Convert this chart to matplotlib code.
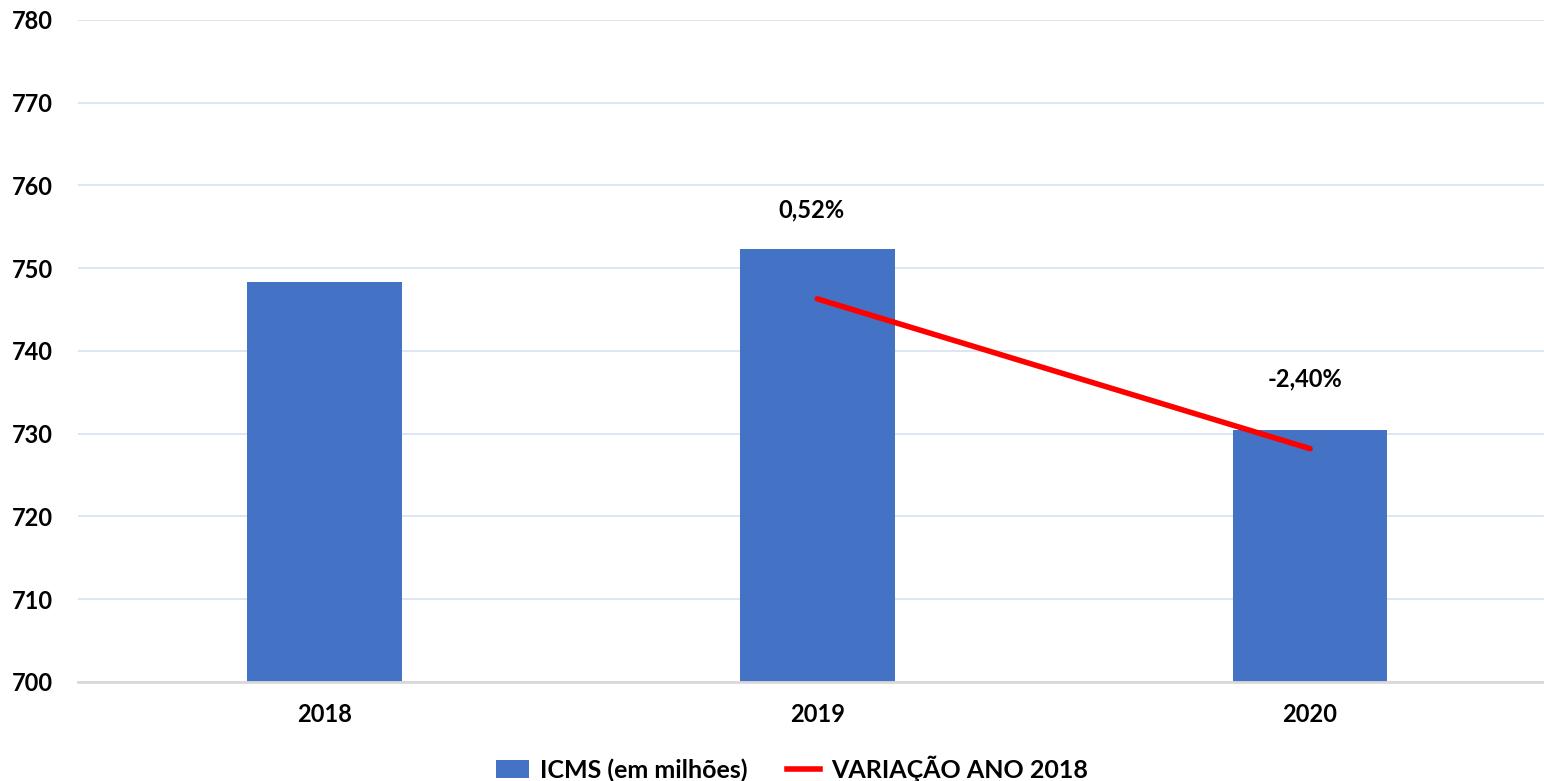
import matplotlib
import matplotlib.pyplot as plt
from matplotlib.lines import Line2D
from matplotlib.patches import Patch

matplotlib.use('Agg')

# Data
years = ['2018', '2019', '2020']
icms = [748.3, 752.3, 730.4]            # ICMS (em milhões)
variation_years = ['2019', '2020']
variation_line = [746.3, 728.2]         # line drawn in the bar scale
variation_labels = ['0,52%', '-2,40%']
y_ticks = list(range(700, 790, 10))

BAR_COLOR = '#4472C4'
LINE_COLOR = '#FF0000'
FONT = ['Lato', 'DejaVu Sans']

plt.rcParams['font.family'] = FONT
plt.rcParams['font.weight'] = 'bold'

fig = plt.figure(figsize=(15.44, 7.81), dpi=100)
ax = fig.add_axes([78 / 1544, 1 - 682 / 781, (1556.5 - 78) / 1544, (682 - 20) / 781])

x = list(range(len(years)))
ax.bar(x, icms, width=0.314, color=BAR_COLOR, zorder=2)

line_x = [years.index(y) for y in variation_years]
ax.plot(line_x, variation_line, color=LINE_COLOR, linewidth=4, solid_capstyle='round', zorder=3)

# label offsets (points above the line end) as placed in the original
label_offsets = [64, 50]
for xi, yi, text, off in zip(line_x, variation_line, variation_labels, label_offsets):
    ax.annotate(text, (xi, yi), xytext=(-4, off), textcoords='offset points',
                ha='center', va='center', fontsize=17, fontweight='bold', color='black')

ax.set_xlim(-0.5, 2.5)
ax.set_ylim(700, 780)
ax.set_yticks(y_ticks)
ax.set_xticks(x)
ax.set_xticklabels(years)
ax.tick_params(axis='both', length=0, labelsize=17, colors='black')
ax.tick_params(axis='y', pad=18)
ax.tick_params(axis='x', pad=15)

ax.grid(axis='y', color='#D9E2F1', linewidth=1.2, zorder=0)
ax.set_axisbelow(True)
for side in ['top', 'right', 'left']:
    ax.spines[side].set_visible(False)
ax.spines['bottom'].set_color('#D9D9D9')
ax.spines['bottom'].set_linewidth(2)

handles = [Patch(facecolor=BAR_COLOR, label='ICMS (em milhões)'),
           Line2D([0], [0], color=LINE_COLOR, linewidth=4, label='VARIAÇÃO ANO 2018')]
fig.legend(handles=handles, loc='lower center', bbox_to_anchor=(0.513, -0.03), ncol=2,
           frameon=False, fontsize=18, handlelength=1.3, handleheight=0.7,
           columnspacing=1.6, handletextpad=0.45)

fig.savefig('out.png', dpi=100)
